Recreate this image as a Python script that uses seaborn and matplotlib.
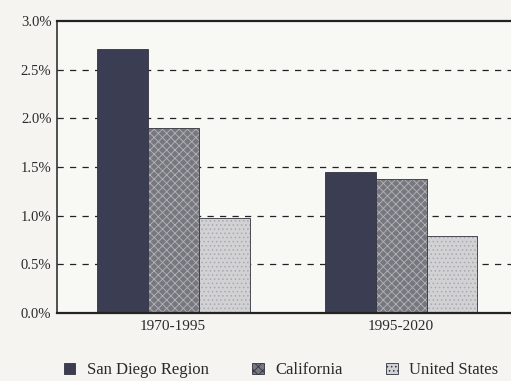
import matplotlib
matplotlib.use("Agg")
import matplotlib.pyplot as plt
import seaborn as sns
import pandas as pd
from matplotlib.patches import Patch
from matplotlib.ticker import FuncFormatter

# Average annual growth rates by period and area
periods = ["1970-1995", "1995-2020"]
regions = ["San Diego Region", "California", "United States"]
san_diego = [2.71, 1.45]
california = [1.90, 1.38]
united_states = [0.98, 0.79]
y_ticks = [0.0, 0.5, 1.0, 1.5, 2.0, 2.5, 3.0]

df = pd.DataFrame({
    "period": periods * 3,
    "region": [regions[0]] * 2 + [regions[1]] * 2 + [regions[2]] * 2,
    "rate": san_diego + california + united_states,
})

sns.set_theme(style="white")
plt.rcParams["font.family"] = ["Liberation Serif", "DejaVu Serif"]
plt.rcParams["hatch.linewidth"] = 0.6

paper = "#f5f4f0"
fills = ["#3b3d52", "#77777f", "#d2d2d4"]
hatch_cols = ["#3b3d52", "#b4b4b8", "#a9a9ae"]
hatches = ["", "xxxx", "...."]

fig = plt.figure(figsize=(5.11, 3.81), dpi=100, facecolor=paper)
ax = fig.add_axes([0.1115, 0.178, 0.95, 0.767])
ax.set_facecolor("#f8f8f4")

sns.barplot(data=df, x="period", y="rate", hue="region", hue_order=regions,
            palette=fills, width=0.67, gap=0, ax=ax, legend=False,
            saturation=1, edgecolor="#333340", linewidth=0.6)

for i, bars in enumerate(ax.containers):
    for bar in bars:
        bar.set_hatch(hatches[i])
        bar._hatch_color = matplotlib.colors.to_rgba(hatch_cols[i])

ax.set_xlim(-0.51, 1.62)
ax.set_ylim(0, 3.0)
ax.set_yticks(y_ticks)
ax.yaxis.set_major_formatter(FuncFormatter(lambda v, _: f"{v:.1f}%"))
ax.set_xlabel("")
ax.set_ylabel("")

for v in y_ticks[1:-1]:
    ax.axhline(v, color="#222222", lw=0.9, ls=(0, (5, 5)), zorder=0)

ax.tick_params(axis="y", length=0, pad=4, labelsize=10.5, colors="#2a2a2a")
ax.tick_params(axis="x", length=0, pad=5, labelsize=11, colors="#2a2a2a")

for side in ["left", "top", "bottom"]:
    ax.spines[side].set_color("#222222")
ax.spines["left"].set_linewidth(1.1)
ax.spines["top"].set_linewidth(1.6)
ax.spines["bottom"].set_linewidth(1.6)
ax.spines["right"].set_visible(False)

handles = [Patch(facecolor=fills[i], edgecolor="#333340", hatch=hatches[i], lw=0.6)
           for i in range(3)]
leg = fig.legend(handles, regions, loc="lower center", bbox_to_anchor=(0.55, -0.032),
                 ncol=3, frameon=False, fontsize=12, handlelength=0.7, handleheight=0.7,
                 handletextpad=0.7, columnspacing=2.6)
for t in leg.get_texts():
    t.set_color("#2a2a2a")

fig.savefig("out.png", dpi=100, facecolor=paper)
